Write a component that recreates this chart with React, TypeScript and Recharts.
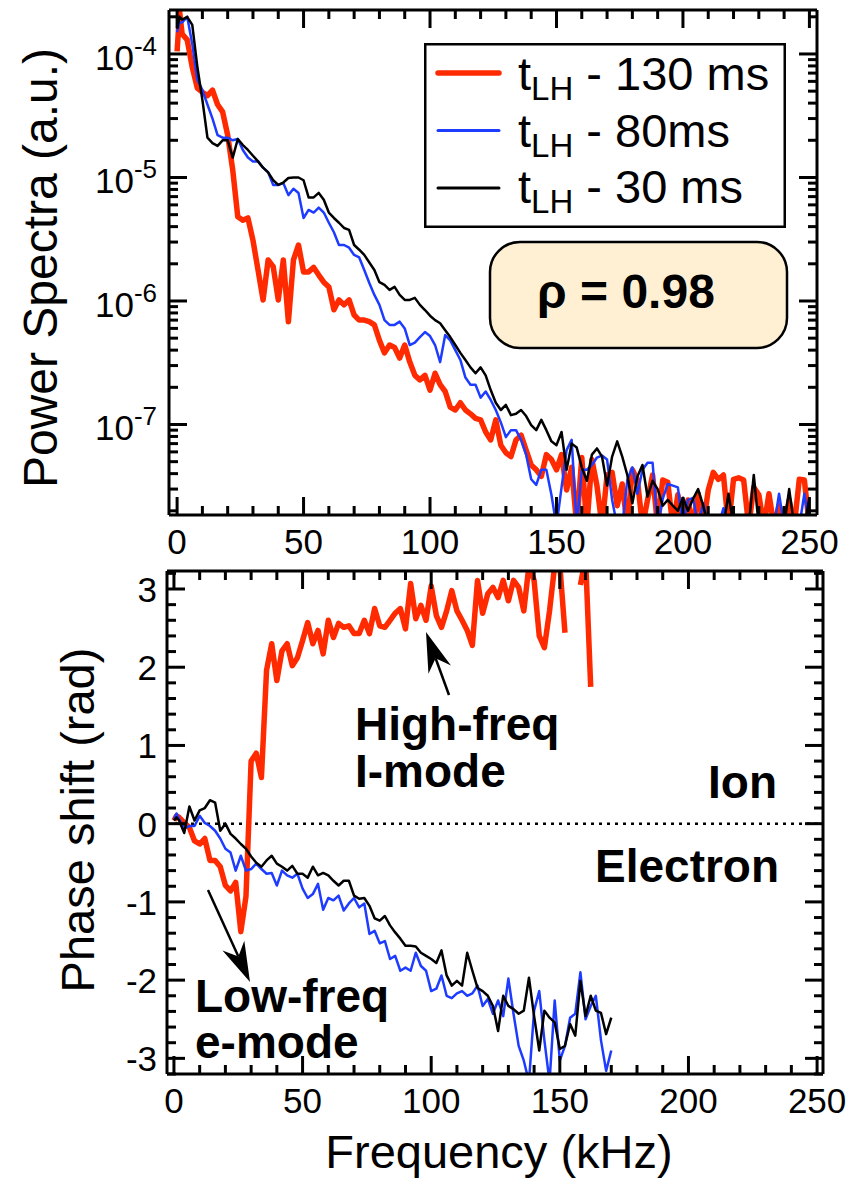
import { LineChart, Line, XAxis, YAxis, ReferenceLine, Legend } from "recharts";

const FONT = "'Liberation Sans', Arial, Helvetica, sans-serif";
const RED = "#FF2A00";
const BLUE = "#1E3CFF";
const BLACK = "#000000";
const CREAM = "#FFF0D4";

const TICK_W = 3;
const MAJOR_LEN = 18;
const MINOR_LEN = 9;
const TICK_FONT = 35;

// ---- top panel: power spectra ----
const FREQ_TOP = [
  0, 1, 2, 4, 6, 8, 10, 12, 14, 16,
  18, 20, 22, 24, 26, 28, 30, 32, 34, 36,
  38, 40, 42, 44, 46, 48, 50, 52, 54, 56,
  58, 60, 62, 64, 66, 68, 70, 72, 74, 76,
  78, 80, 82, 84, 86, 88, 90, 92, 94, 96,
  98, 100, 102, 104, 106, 108, 110, 112, 114, 116,
  118, 120, 122, 124, 126, 128, 130, 132, 134, 136,
  138, 140, 142, 144, 146, 148, 150, 152, 154, 156,
  158, 160, 162, 164, 166, 168, 170, 172, 174, 176,
  178, 180, 182, 184, 186, 188, 190, 192, 194, 196,
  198, 200, 202, 204, 206, 208, 210, 212, 214, 216,
  218, 220, 222, 224, 226, 228, 230, 232, 234, 236,
  238, 240, 242, 244, 246, 248, 250,
];

const SPEC_130 = [
  1.05e-4, 2.2e-4, 1.45e-4, 1.3e-4, 7.8e-5, 5.3e-5, 4.9e-5, 4.6e-5, 5.1e-5, 3.9e-5,
  3.4e-5, 2.2e-5, 1.15e-5, 4.8e-6, 4.5e-6, 4.7e-6, 3.1e-6, 1.78e-6, 1.02e-6, 2.15e-6,
  1.9e-6, 1.02e-6, 2.15e-6, 6.8e-7, 2.15e-6, 2.84e-6, 1.72e-6, 1.72e-6, 1.87e-6, 1.62e-6,
  1.42e-6, 1.3e-6, 8.5e-7, 1.02e-6, 9.3e-7, 1.02e-6, 7.7e-7, 7.0e-7, 7.0e-7, 6.8e-7,
  6.4e-7, 4.8e-7, 3.8e-7, 4.4e-7, 4.2e-7, 3.45e-7, 4.4e-7, 3.2e-7, 2.5e-7, 2.3e-7,
  2.5e-7, 1.9e-7, 2.6e-7, 2.1e-7, 1.85e-7, 1.38e-7, 1.31e-7, 1.5e-7, 1.31e-7, 1.22e-7,
  1.12e-7, 1.09e-7, 8.7e-8, 7.5e-8, 1.09e-7, 6.8e-8, 5.9e-8, 5.5e-8, 7.5e-8, 8.2e-8,
  6.2e-8, 4.7e-8, 4.3e-8, 3.8e-8, 5.7e-8, 5.2e-8, 4.3e-8, 5.7e-8, 2.95e-8, 4.5e-8,
  1.5e-8, 5.4e-8, 1.5e-8, 5.2e-8, 3.2e-8, 1.5e-8, 3.9e-8, 4.1e-8, 2.2e-8, 3.3e-8,
  1.5e-8, 4.3e-8, 3.55e-8, 1.5e-8, 2.45e-8, 3.9e-8, 1.5e-8, 3.55e-8, 3.4e-8, 1.5e-8,
  2.7e-8, 1.5e-8, 2.45e-8, 1.5e-8, 2.75e-8, 1.5e-8, 2.95e-8, 4.1e-8, 3.6e-8, 3.9e-8,
  1.5e-8, 3.6e-8, 3.7e-8, 3.55e-8, 1.5e-8, 3.1e-8, 2.7e-8, 1.5e-8, 2.75e-8, 1.5e-8,
  2.2e-8, 1.5e-8, 2.45e-8, 1.5e-8, 3.6e-8, 3.55e-8, 1.5e-8,
];

const SPEC_80 = [
  1.5e-4, 1.8e-4, 1.8e-4, 2.0e-4, 1.2e-4, 6.2e-5, 5.1e-5, 3.9e-5, 3.0e-5, 2.2e-5,
  2.1e-5, 2.1e-5, 2.0e-5, 2.05e-5, 1.67e-5, 1.45e-5, 1.35e-5, 1.35e-5, 1.2e-5, 1.1e-5,
  8.7e-6, 8.7e-6, 9.0e-6, 7.2e-6, 8.1e-6, 7.5e-6, 4.7e-6, 5.46e-6, 5.2e-6, 5.7e-6,
  5.2e-6, 4.3e-6, 3.6e-6, 2.84e-6, 2.84e-6, 2.7e-6, 2.36e-6, 2.25e-6, 1.78e-6, 1.4e-6,
  1.12e-6, 9.3e-7, 7.0e-7, 6.4e-7, 6.4e-7, 6.8e-7, 6.0e-7, 4.4e-7, 4.6e-7, 5.1e-7,
  5.6e-7, 5.2e-7, 4.4e-7, 3.2e-7, 5.3e-7, 4.8e-7, 4.0e-7, 3.33e-7, 2.4e-7, 2.1e-7,
  2.1e-7, 1.65e-7, 1.85e-7, 1.58e-7, 1.31e-7, 1.04e-7, 7.9e-8, 9.0e-8, 9.0e-8, 7.5e-8,
  5.7e-8, 3.6e-8, 3.24e-8, 4.3e-8, 4.3e-8, 2.7e-8, 1.5e-8, 3.1e-8, 6.2e-8, 7.5e-8,
  1.5e-8, 4.3e-8, 4.3e-8, 4.7e-8, 5.4e-8, 5.6e-8, 5.2e-8, 2.45e-8, 1.5e-8, 1.5e-8,
  3.55e-8, 4.5e-8, 2.75e-8, 4.3e-8, 4.9e-8, 4.9e-8, 1.5e-8, 2.5e-8, 3.3e-8, 3.2e-8,
  3.1e-8, 1.5e-8, 2.45e-8, 2.55e-8, 1.5e-8, 2.3e-8, 1.5e-8, 1.5e-8, 1.5e-8, 2.1e-8,
  1.5e-8, 1.5e-8, 1.5e-8, 1.5e-8, 1.5e-8, 1.5e-8, 1.5e-8, 1.5e-8, 1.5e-8, 1.5e-8,
  2.75e-8, 1.5e-8, 1.5e-8, 1.5e-8, 1.5e-8, 2.75e-8, 1.5e-8,
];

const SPEC_30 = [
  1.6e-4, 2.0e-4, 1.9e-4, 2.0e-4, 1.72e-4, 7.9e-5, 4.25e-5, 2.1e-5, 1.9e-5, 1.8e-5,
  2.0e-5, 2.0e-5, 1.45e-5, 2.05e-5, 1.83e-5, 1.67e-5, 1.5e-5, 1.35e-5, 1.2e-5, 1.1e-5,
  9.5e-6, 8.7e-6, 9.1e-6, 9.9e-6, 1.0e-5, 1.0e-5, 9.5e-6, 6.9e-6, 6.9e-6, 7.5e-6,
  6.6e-6, 5.2e-6, 4.7e-6, 4.3e-6, 3.9e-6, 3.76e-6, 2.84e-6, 2.6e-6, 2.36e-6, 2.05e-6,
  1.78e-6, 1.42e-6, 1.35e-6, 1.23e-6, 1.3e-6, 1.12e-6, 1.02e-6, 1.02e-6, 1.06e-6, 9.3e-7,
  8.45e-7, 7.6e-7, 7.0e-7, 6.6e-7, 5.8e-7, 5.1e-7, 4.4e-7, 3.8e-7, 3.33e-7, 2.9e-7,
  2.6e-7, 2.9e-7, 2.5e-7, 1.9e-7, 1.5e-7, 1.31e-7, 1.44e-7, 1.19e-7, 1.22e-7, 1.31e-7,
  1.17e-7, 9.9e-8, 9.0e-8, 1.09e-7, 9.0e-8, 7.3e-8, 6.8e-8, 8.7e-8, 4.3e-8, 7.0e-8,
  6.5e-8, 4.5e-8, 3.5e-8, 5.7e-8, 6.4e-8, 5.5e-8, 3.2e-8, 5.5e-8, 7.3e-8, 5.5e-8,
  3.9e-8, 2.3e-8, 3.8e-8, 4.7e-8, 2.6e-8, 3.5e-8, 3.0e-8, 2.2e-8, 2.45e-8, 2.2e-8,
  2.0e-8, 2.55e-8, 2.0e-8, 2.5e-8, 3.0e-8, 2.2e-8, 1.5e-8, 1.5e-8, 1.5e-8, 1.5e-8,
  2.75e-8, 1.5e-8, 1.5e-8, 1.5e-8, 1.5e-8, 3.9e-8, 1.5e-8, 1.5e-8, 1.5e-8, 1.5e-8,
  1.5e-8, 1.5e-8, 3.0e-8, 1.5e-8, 1.5e-8, 1.5e-8, 2.55e-8,
];

// ---- bottom panel: phase shift ----
const FREQ_BOT = [
  0, 1, 2, 4, 6, 8, 10, 12, 14, 16,
  18, 20, 22, 24, 26, 28, 30, 32, 34, 36,
  38, 40, 42, 44, 46, 48, 50, 52, 54, 56,
  58, 60, 62, 64, 66, 68, 70, 72, 74, 76,
  78, 80, 82, 84, 86, 88, 90, 92, 94, 96,
  98, 100, 102, 104, 106, 108, 110, 112, 114, 116,
  118, 120, 122, 124, 126, 128, 130, 132, 134, 136,
  138, 140, 142, 144, 146, 148, 150, 152, 154, 156,
  158, 160, 162, 164, 166, 168, 170,
];

const PHASE_130 = [
  0.04, 0.1, 0.08, 0.01, -0.05, -0.22, -0.26, -0.19, -0.47, -0.47,
  -0.55, -0.79, -0.86, -0.75, -1.38, -0.93, 0.8, 0.9, 0.59, 1.96,
  2.3, 1.83, 2.21, 2.3, 2.02, 2.12, 2.34, 2.57, 2.3, 2.47,
  2.17, 2.6, 2.38, 2.56, 2.51, 2.53, 2.43, 2.43, 2.6, 2.43,
  2.75, 2.53, 2.51, 2.6, 2.69, 2.75, 2.49, 3.07, 2.62, 2.79,
  2.6, 3.04, 2.66, 2.51, 2.72, 2.98, 2.72, 2.6, 2.47, 2.28,
  3.11, 2.69, 2.94, 3.02, 2.89, 3.11, 2.85, 3.11, 3.02, 2.72,
  3.3, 3.11, 2.4, 2.25, 2.72, 3.3, 3.3, 2.44, null, null,
  3.05, 3.4, 1.75, null, null, null, null,
];

const PHASE_80 = [
  0.06, 0.13, 0.06, -0.06, -0.03, -0.03, 0.1, 0.01, -0.03, -0.09,
  -0.19, -0.32, -0.37, -0.6, -0.41, -0.6, -0.58, -0.51, -0.58, -0.64,
  -0.63, -0.79, -0.6, -0.66, -0.69, -0.64, -0.83, -0.95, -0.9, -0.77,
  -1.1, -0.95, -0.98, -0.92, -1.11, -1.02, -0.95, -1.07, -1.02, -1.41,
  -1.37, -1.53, -1.5, -1.73, -1.69, -1.88, -1.84, -1.88, -1.65, -1.82,
  -1.88, -2.14, -2.11, -1.94, -2.2, -2.23, -2.17, -2.14, -2.2, -2.17,
  -2.07, -2.33, -2.24, -2.43, -2.26, -2.46, -1.98, -2.43, -2.84, -3.03,
  -3.3, -2.39, -2.14, -2.77, -3.3, -2.26, -3.03, -2.84, -2.48, -2.43,
  -1.9, -2.5, -2.33, -2.2, -2.77, -3.16, -2.9,
];

const PHASE_30 = [
  0.04, 0.08, 0.04, -0.12, 0.22, 0.04, 0.17, 0.2, 0.3, 0.27,
  -0.09, 0.0, -0.13, -0.19, -0.26, -0.32, -0.42, -0.5, -0.55, -0.47,
  -0.41, -0.51, -0.55, -0.6, -0.54, -0.64, -0.64, -0.69, -0.55, -0.66,
  -0.63, -0.66, -0.73, -0.79, -0.73, -0.73, -0.92, -0.96, -0.95, -1.05,
  -1.21, -1.24, -1.18, -1.3, -1.39, -1.47, -1.56, -1.56, -1.57, -1.65,
  -1.69, -1.73, -1.78, -1.62, -1.94, -2.07, -2.01, -2.07, -1.65, -1.88,
  -2.1, -2.14, -2.2, -2.33, -2.65, -2.2, -2.33, -2.37, -2.43, -2.39,
  -1.97, -2.46, -2.9, -2.39, -2.48, -2.54, -2.88, -2.84, -2.56, -2.71,
  -2.01, -2.46, -2.2, -2.39, -2.42, -2.69, -2.48,
];

// ---- axes ----
const FREQ_TICKS = [0, 10, 20, 30, 40, 50, 60, 70, 80, 90, 100, 110, 120, 130, 140, 150, 160, 170, 180, 190, 200, 210, 220, 230, 240, 250];
const FREQ_LABELS = [0, 50, 100, 150, 200, 250];
const DECADES = [1e-8, 1e-7, 1e-6, 1e-5, 1e-4];
const DECADE_LABELS = ["-8", "-7", "-6", "-5", "-4"];
const LOG_MULT = [1, 2, 3, 4, 5, 6, 7, 8, 9];
const SPEC_DOMAIN: [number, number] = [1.85e-8, 2.27e-4];
const LOG_TICKS = DECADES.flatMap((d) => LOG_MULT.map((m) => Number((m * d).toPrecision(3)))).filter(
  (v) => v >= SPEC_DOMAIN[0] && v <= SPEC_DOMAIN[1]
);
const PHASE_LABELS = [-3, -2, -1, 0, 1, 2, 3];
const PHASE_MINOR_STEPS = [-16, -15, -14, -13, -12, -11, -10, -9, -8, -7, -6, -5, -4, -3, -2, -1, 0, 1, 2, 3, 4, 5, 6, 7, 8, 9, 10, 11, 12, 13, 14, 15, 16];
const PHASE_TICKS = PHASE_MINOR_STEPS.map((s) => s / 5);
const PHASE_DOMAIN: [number, number] = [-3.2, 3.23];

const spectra = FREQ_TOP.map((f, i) => ({ f, r: SPEC_130[i], b: SPEC_80[i], k: SPEC_30[i] }));
const phases = FREQ_BOT.map((f, i) => ({ f, r: PHASE_130[i], b: PHASE_80[i], k: PHASE_30[i] }));

const LEGEND_ORDER = ["r", "b", "k"];
const LEGEND_W: Record<string, number> = { r: 5.5, b: 3, k: 3 };
const FRAME_NAME = "frame";

type TickArgs = { x?: number; y?: number; payload?: { value: number } };

const near = (a: number, b: number) => Math.abs(a / b - 1) < 1e-6;

function FreqTick({ x = 0, y = 0, payload, side, label }: TickArgs & { side: "top" | "bottom"; label: boolean }) {
  const v = payload?.value ?? 0;
  const major = FREQ_LABELS.includes(v);
  const len = major ? MAJOR_LEN : MINOR_LEN;
  const y2 = side === "bottom" ? y - len : y + len;
  return (
    <g>
      <line x1={x} x2={x} y1={y} y2={y2} stroke="#000" strokeWidth={TICK_W} />
      {major && label && (
        <text x={x} y={y + 39} textAnchor="middle" fontFamily={FONT} fontSize={TICK_FONT} fill="#000">
          {v}
        </text>
      )}
    </g>
  );
}

function LogTick({ x = 0, y = 0, payload, side }: TickArgs & { side: "left" | "right" }) {
  const v = payload?.value ?? 1;
  const di = DECADES.findIndex((d) => near(v, d));
  const major = di >= 0;
  const len = major ? MAJOR_LEN : MINOR_LEN;
  const x2 = side === "left" ? x + len : x - len;
  return (
    <g>
      <line x1={x} x2={x2} y1={y} y2={y} stroke="#000" strokeWidth={TICK_W} />
      {major && side === "left" && (
        <text x={x - 12} y={y + 16} textAnchor="end" fontFamily={FONT} fontSize={TICK_FONT} fill="#000">
          10
          <tspan dy={-15} fontSize={26}>
            {DECADE_LABELS[di]}
          </tspan>
        </text>
      )}
    </g>
  );
}

function PhaseTick({ x = 0, y = 0, payload, side }: TickArgs & { side: "left" | "right" }) {
  const v = payload?.value ?? 0;
  const major = PHASE_LABELS.some((p) => Math.abs(p - v) < 1e-6);
  const len = major ? MAJOR_LEN : MINOR_LEN;
  const x2 = side === "left" ? x + len : x - len;
  return (
    <g>
      <line x1={x} x2={x2} y1={y} y2={y} stroke="#000" strokeWidth={TICK_W} />
      {major && side === "left" && (
        <text x={x - 10} y={y + 13} textAnchor="end" fontFamily={FONT} fontSize={TICK_FONT} fill="#000">
          {Math.round(v)}
        </text>
      )}
    </g>
  );
}

type LegendItem = { value: string; color: string; dataKey: string; type?: string };

function SpectraLegend({ payload }: { payload?: LegendItem[] }) {
  const items = (payload ?? [])
    .filter((it) => it.type !== "none" && it.value !== FRAME_NAME)
    .sort((a, b) => LEGEND_ORDER.indexOf(String(a.dataKey)) - LEGEND_ORDER.indexOf(String(b.dataKey)))
    .slice(0, 3);
  return (
    <svg width={362} height={185} style={{ display: "block", overflow: "hidden" }}>
      <rect x={1.25} y={1.25} width={359.5} height={182.5} fill="#fff" stroke="#000" strokeWidth={2.5} />
      {items.map((it, i) => (
        <g key={String(it.dataKey)}>
          <line
            x1={14}
            x2={75}
            y1={30 + i * 57.5}
            y2={30 + i * 57.5}
            stroke={it.color}
            strokeWidth={LEGEND_W[String(it.dataKey)] ?? 3}
            strokeLinecap="round"
          />
          <text x={94} y={47 + i * 56.5} fontFamily={FONT} fontSize={47} fill="#000" style={{ whiteSpace: "pre" }}>
            t
            <tspan fontSize={33} dy={10}>
              LH
            </tspan>
            <tspan dy={-10}>{it.value}</tspan>
          </text>
        </g>
      ))}
    </svg>
  );
}

function Arrow({ tail, tip }: { tail: [number, number]; tip: [number, number] }) {
  const dx = tail[0] - tip[0];
  const dy = tail[1] - tip[1];
  const len = Math.hypot(dx, dy);
  const ux = dx / len;
  const uy = dy / len;
  const px = -uy;
  const py = ux;
  const hl = 40;
  const hw = 12;
  const notch = 28;
  const bx = tip[0] + ux * hl;
  const by = tip[1] + uy * hl;
  const nx = tip[0] + ux * notch;
  const ny = tip[1] + uy * notch;
  const pts = [
    [tip[0], tip[1]],
    [bx + px * hw, by + py * hw],
    [nx, ny],
    [bx - px * hw, by - py * hw],
  ]
    .map((p) => p.join(","))
    .join(" ");
  return (
    <g>
      <line x1={tail[0]} y1={tail[1]} x2={nx} y2={ny} stroke="#000" strokeWidth={2.5} />
      <polygon points={pts} fill="#000" />
    </g>
  );
}

const axisLine = { stroke: "#000", strokeWidth: 3 };

export default function App() {
  return (
    <div style={{ position: "absolute", left: 0, top: 0, width: 859, height: 1185, background: "#fff" }}>
      {/* power spectra */}
      <div style={{ position: "absolute", left: 0, top: 0 }}>
        <LineChart width={859} height={560} data={spectra} margin={{ top: 0, right: 32, bottom: 5, left: 109 }}>
          <XAxis
            xAxisId="b"
            type="number"
            dataKey="f"
            domain={[-3.2, 253]}
            allowDataOverflow
            ticks={FREQ_TICKS}
            interval={0}
            tickSize={0}
            tickMargin={0}
            tickLine={false}
            axisLine={axisLine}
            height={40}
            tick={(p: TickArgs) => <FreqTick {...p} side="bottom" label />}
          />
          <XAxis
            xAxisId="t"
            orientation="top"
            type="number"
            dataKey="f"
            domain={[-3.2, 253]}
            allowDataOverflow
            ticks={FREQ_TICKS}
            interval={0}
            tickSize={0}
            tickMargin={0}
            tickLine={false}
            axisLine={axisLine}
            height={10}
            tick={(p: TickArgs) => <FreqTick {...p} side="top" label={false} />}
          />
          <YAxis
            yAxisId="l"
            scale="log"
            domain={SPEC_DOMAIN}
            allowDataOverflow
            ticks={LOG_TICKS}
            interval={0}
            tickSize={0}
            tickMargin={0}
            tickLine={false}
            axisLine={axisLine}
            width={60}
            tick={(p: TickArgs) => <LogTick {...p} side="left" />}
          />
          <YAxis
            yAxisId="r"
            orientation="right"
            scale="log"
            domain={SPEC_DOMAIN}
            allowDataOverflow
            ticks={LOG_TICKS}
            interval={0}
            tickSize={0}
            tickMargin={0}
            tickLine={false}
            axisLine={axisLine}
            width={10}
            tick={(p: TickArgs) => <LogTick {...p} side="right" />}
          />
          <Legend
            layout="vertical"
            align="center"
            verticalAlign="middle"
            width={362}
            height={185}
            wrapperStyle={{ left: 424, top: 43, width: 362, height: 185 }}
            content={(props: { payload?: LegendItem[] }) => <SpectraLegend payload={props.payload} />}
          />
          <Line
            xAxisId="b"
            yAxisId="l"
            dataKey="r"
            name=" - 130 ms"
            stroke={RED}
            strokeWidth={5.5}
            strokeLinejoin="round"
            dot={false}
            activeDot={false}
            isAnimationActive={false}
          />
          <Line
            xAxisId="b"
            yAxisId="l"
            dataKey="b"
            name=" - 80ms"
            stroke={BLUE}
            strokeWidth={2.5}
            strokeLinejoin="round"
            dot={false}
            activeDot={false}
            isAnimationActive={false}
          />
          <Line
            xAxisId="b"
            yAxisId="l"
            dataKey="k"
            name=" - 30 ms"
            stroke={BLACK}
            strokeWidth={2.5}
            strokeLinejoin="round"
            dot={false}
            activeDot={false}
            isAnimationActive={false}
          />
          <Line
            xAxisId="t"
            yAxisId="r"
            dataKey="k"
            name={FRAME_NAME}
            stroke="none"
            legendType="none"
            dot={false}
            activeDot={false}
            isAnimationActive={false}
          />
        </LineChart>
      </div>

      {/* phase shift */}
      <div style={{ position: "absolute", left: 0, top: 540 }}>
        <LineChart width={859} height={600} data={phases} margin={{ top: 21, right: 26, bottom: 26, left: 107 }}>
          <XAxis
            xAxisId="b"
            type="number"
            dataKey="f"
            domain={[-2.7, 252.3]}
            allowDataOverflow
            ticks={FREQ_TICKS}
            interval={0}
            tickSize={0}
            tickMargin={0}
            tickLine={false}
            axisLine={axisLine}
            height={40}
            tick={(p: TickArgs) => <FreqTick {...p} side="bottom" label />}
          />
          <XAxis
            xAxisId="t"
            orientation="top"
            type="number"
            dataKey="f"
            domain={[-2.7, 252.3]}
            allowDataOverflow
            ticks={FREQ_TICKS}
            interval={0}
            tickSize={0}
            tickMargin={0}
            tickLine={false}
            axisLine={axisLine}
            height={10}
            tick={(p: TickArgs) => <FreqTick {...p} side="top" label={false} />}
          />
          <YAxis
            yAxisId="l"
            type="number"
            domain={PHASE_DOMAIN}
            allowDataOverflow
            ticks={PHASE_TICKS}
            interval={0}
            tickSize={0}
            tickMargin={0}
            tickLine={false}
            axisLine={axisLine}
            width={60}
            tick={(p: TickArgs) => <PhaseTick {...p} side="left" />}
          />
          <YAxis
            yAxisId="r"
            orientation="right"
            type="number"
            domain={PHASE_DOMAIN}
            allowDataOverflow
            ticks={PHASE_TICKS}
            interval={0}
            tickSize={0}
            tickMargin={0}
            tickLine={false}
            axisLine={axisLine}
            width={10}
            tick={(p: TickArgs) => <PhaseTick {...p} side="right" />}
          />
          <ReferenceLine xAxisId="b" yAxisId="l" y={0} stroke="#000" strokeWidth={2.5} strokeDasharray="3 5" />
          <Line
            xAxisId="b"
            yAxisId="l"
            dataKey="r"
            stroke={RED}
            strokeWidth={5.5}
            strokeLinejoin="round"
            dot={false}
            activeDot={false}
            connectNulls={false}
            isAnimationActive={false}
          />
          <Line
            xAxisId="b"
            yAxisId="l"
            dataKey="b"
            stroke={BLUE}
            strokeWidth={2.5}
            strokeLinejoin="round"
            dot={false}
            activeDot={false}
            isAnimationActive={false}
          />
          <Line
            xAxisId="b"
            yAxisId="l"
            dataKey="k"
            stroke={BLACK}
            strokeWidth={2.5}
            strokeLinejoin="round"
            dot={false}
            activeDot={false}
            isAnimationActive={false}
          />
          <Line
            xAxisId="t"
            yAxisId="r"
            dataKey="k"
            stroke="none"
            legendType="none"
            dot={false}
            activeDot={false}
            isAnimationActive={false}
          />
        </LineChart>
      </div>

      {/* titles and annotations */}
      <svg
        width={859}
        height={1185}
        style={{ position: "absolute", left: 0, top: 0, pointerEvents: "none" }}
        fontFamily={FONT}
      >
        <text transform="translate(57,268) rotate(-90)" textAnchor="middle" fontSize={48} fill="#000">
          Power Spectra (a.u.)
        </text>
        <text transform="translate(94,820) rotate(-90)" textAnchor="middle" fontSize={47} fill="#000">
          Phase shift (rad)
        </text>
        <text x={499} y={1168} textAnchor="middle" fontSize={47} fill="#000">
          Frequency (kHz)
        </text>

        <rect x={490} y={242} width={297} height={106} rx={30} fill={CREAM} stroke="#000" strokeWidth={2.5} />
        <text x={537} y={308} fontSize={48} fontWeight="bold" fill="#000">
          ρ = 0.98
        </text>

        <text x={355} y={740} fontSize={46} fontWeight="bold" fill="#000">
          High-freq
        </text>
        <text x={355} y={787} fontSize={46} fontWeight="bold" fill="#000">
          I-mode
        </text>
        <text x={708} y={798} fontSize={46} fontWeight="bold" fill="#000">
          Ion
        </text>
        <text x={595} y={882} fontSize={46} fontWeight="bold" fill="#000">
          Electron
        </text>
        <text x={195} y={1012} fontSize={46} fontWeight="bold" fill="#000">
          Low-freq
        </text>
        <text x={195} y={1058} fontSize={46} fontWeight="bold" fill="#000">
          e-mode
        </text>
        <Arrow tail={[449, 695]} tip={[426, 632]} />
        <Arrow tail={[208, 890]} tip={[250, 982]} />
      </svg>
    </div>
  );
}
